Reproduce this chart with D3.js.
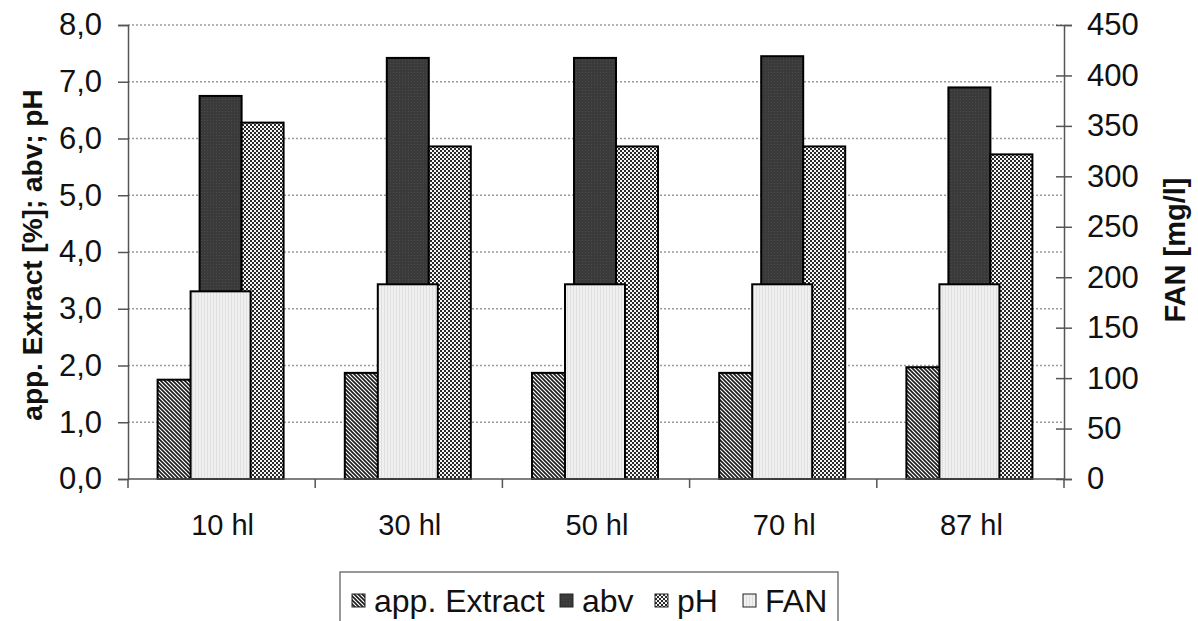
<!DOCTYPE html>
<html>
<head>
<meta charset="utf-8">
<script src="https://cdn.jsdelivr.net/npm/d3@7"></script>
<style>
  body { margin: 0; background: #fff; }
  svg { font-family: "Liberation Sans", Arial, sans-serif; }
</style>
</head>
<body>
<div id="chart"></div>
<script>
// data
var categories = ["10 hl", "30 hl", "50 hl", "70 hl", "87 hl"];
var appExtract = [1.75, 1.87, 1.87, 1.87, 1.97];
var abv = [6.75, 7.42, 7.42, 7.45, 6.9];
var pH = [6.28, 5.86, 5.86, 5.86, 5.72];
var fan = [186, 193, 193, 193, 193];
var leftTicks = [0, 1, 2, 3, 4, 5, 6, 7, 8];
var rightTicks = [0, 50, 100, 150, 200, 250, 300, 350, 400, 450];

var W = 1198, H = 621;
var plotLeft = 128, plotRight = 1064, plotTop = 25, plotBottom = 479;

var svg = d3.select("#chart").append("svg")
    .attr("width", W)
    .attr("height", H);

// fill patterns
var defs = svg.append("defs");

var pHatch = defs.append("pattern")
    .attr("id", "hatch")
    .attr("patternUnits", "userSpaceOnUse")
    .attr("width", 4).attr("height", 4);
pHatch.append("rect").attr("width", 4).attr("height", 4).attr("fill", "#fff");
pHatch.append("path").attr("d", "M-1,-1 L5,5 M-1,3 L1,5 M3,-1 L5,1")
    .attr("stroke", "#1a1a1a").attr("stroke-width", 1.6);

var pDark = defs.append("pattern")
    .attr("id", "dark")
    .attr("patternUnits", "userSpaceOnUse")
    .attr("width", 3).attr("height", 3);
pDark.append("rect").attr("width", 3).attr("height", 3).attr("fill", "#3a3a3a");
pDark.append("rect").attr("width", 1).attr("height", 1).attr("fill", "#4a4a4a");

var pCheck = defs.append("pattern")
    .attr("id", "check")
    .attr("patternUnits", "userSpaceOnUse")
    .attr("width", 4).attr("height", 4);
pCheck.append("rect").attr("width", 4).attr("height", 4).attr("fill", "#2a2a2a");
pCheck.append("rect").attr("x", 0).attr("y", 0).attr("width", 2).attr("height", 2).attr("fill", "#f6f6f6");
pCheck.append("rect").attr("x", 2).attr("y", 2).attr("width", 2).attr("height", 2).attr("fill", "#f6f6f6");

var pLight = defs.append("pattern")
    .attr("id", "light")
    .attr("patternUnits", "userSpaceOnUse")
    .attr("width", 3).attr("height", 3);
pLight.append("rect").attr("width", 3).attr("height", 3).attr("fill", "#f0f0f0");
pLight.append("rect").attr("width", 1).attr("height", 3).attr("fill", "#e0e0e0");

// scales
var x0 = d3.scaleBand().domain(categories).range([plotLeft, plotRight]).padding(0);
var groupW = 126;
var x1 = d3.scaleBand().domain(["ext", "abv", "ph"])
    .range([(x0.bandwidth() - groupW) / 2 - 1, (x0.bandwidth() + groupW) / 2 - 1]);
var fanW = 60;
var yL = d3.scaleLinear().domain([0, 8]).range([plotBottom, plotTop]);
var yR = d3.scaleLinear().domain([0, 450]).range([plotBottom, plotTop]);

// gridlines
svg.append("g").selectAll("line")
    .data(leftTicks.filter(function(d) { return d > 0; }))
    .enter().append("line")
    .attr("x1", plotLeft).attr("x2", plotRight)
    .attr("y1", function(d) { return yL(d); })
    .attr("y2", function(d) { return yL(d); })
    .attr("stroke", "#9a9a9a")
    .attr("stroke-width", 1.5)
    .attr("stroke-dasharray", "2,2");

// bars
var primary = [
    {key: "ext", values: appExtract, fill: "url(#hatch)"},
    {key: "abv", values: abv, fill: "url(#dark)"},
    {key: "ph", values: pH, fill: "url(#check)"}
];

primary.forEach(function(s) {
    svg.append("g").selectAll("rect")
        .data(s.values)
        .enter().append("rect")
        .attr("x", function(d, i) { return x0(categories[i]) + x1(s.key); })
        .attr("y", function(d) { return yL(d); })
        .attr("width", x1.bandwidth())
        .attr("height", function(d) { return yL(0) - yL(d); })
        .attr("fill", s.fill)
        .attr("stroke", "#000")
        .attr("stroke-width", 2);
});

svg.append("g").selectAll("rect")
    .data(fan)
    .enter().append("rect")
    .attr("x", function(d, i) { return x0(categories[i]) + (x0.bandwidth() - fanW) / 2 - 1; })
    .attr("y", function(d) { return yR(d); })
    .attr("width", fanW)
    .attr("height", function(d) { return yR(0) - yR(d); })
    .attr("fill", "url(#light)")
    .attr("stroke", "#000")
    .attr("stroke-width", 2);

// left axis
var fmt = function(d) { return d3.format(".1f")(d).replace(".", ","); };
var gL = svg.append("g")
    .attr("transform", "translate(" + plotLeft + ",0)")
    .call(d3.axisLeft(yL).tickValues(leftTicks).tickFormat(fmt).tickSize(10).tickPadding(16));
gL.select(".domain").attr("stroke", "#555").attr("stroke-width", 1.5);
gL.selectAll(".tick line").attr("stroke", "#555").attr("stroke-width", 1.5);
gL.selectAll("text").attr("font-size", 31).attr("fill", "#111")
    .attr("font-family", "Liberation Sans, Arial, sans-serif");

// right axis
var gR = svg.append("g")
    .attr("transform", "translate(" + plotRight + ",0)")
    .call(d3.axisRight(yR).tickValues(rightTicks).tickSize(8).tickPadding(15));
gR.select(".domain").attr("stroke", "#555").attr("stroke-width", 1.5);
gR.selectAll(".tick line").attr("x1", -8).attr("stroke", "#555").attr("stroke-width", 1.5);
gR.selectAll("text").attr("font-size", 31).attr("fill", "#111")
    .attr("font-family", "Liberation Sans, Arial, sans-serif");
svg.append("line")
    .attr("x1", plotRight).attr("x2", plotRight)
    .attr("y1", plotBottom).attr("y2", plotBottom + 9)
    .attr("stroke", "#555").attr("stroke-width", 1.5);

// x axis
svg.append("line")
    .attr("x1", plotLeft).attr("x2", plotRight)
    .attr("y1", plotBottom).attr("y2", plotBottom)
    .attr("stroke", "#555").attr("stroke-width", 1.5);
var bounds = categories.map(function(c) { return x0(c); });
svg.append("g").selectAll("line")
    .data(bounds)
    .enter().append("line")
    .attr("x1", function(d) { return d; }).attr("x2", function(d) { return d; })
    .attr("y1", plotBottom).attr("y2", plotBottom + 9)
    .attr("stroke", "#555").attr("stroke-width", 1.5);
svg.append("g").selectAll("text")
    .data(categories)
    .enter().append("text")
    .attr("x", function(d) { return x0(d) + x0.bandwidth() / 2 + 1; })
    .attr("y", 535)
    .attr("text-anchor", "middle")
    .attr("font-size", 29)
    .attr("fill", "#111")
    .text(function(d) { return d; });

// axis titles
svg.append("text")
    .attr("transform", "translate(42,255) rotate(-90)")
    .attr("text-anchor", "middle")
    .attr("font-size", 28)
    .attr("font-weight", "bold")
    .attr("fill", "#111")
    .text("app. Extract [%]; abv; pH");

svg.append("text")
    .attr("transform", "translate(1185,250) rotate(-90)")
    .attr("text-anchor", "middle")
    .attr("font-size", 29)
    .attr("font-weight", "bold")
    .attr("fill", "#111")
    .text("FAN [mg/l]");

// legend
var legendItems = [
    {name: "app. Extract", fill: "url(#hatch)", x: 352},
    {name: "abv", fill: "url(#dark)", x: 560},
    {name: "pH", fill: "url(#check)", x: 655},
    {name: "FAN", fill: "url(#light)", x: 743}
];
svg.append("rect")
    .attr("x", 340).attr("y", 572)
    .attr("width", 498).attr("height", 60)
    .attr("fill", "#fff")
    .attr("stroke", "#777")
    .attr("stroke-width", 1.5);
var lg = svg.append("g").selectAll("g")
    .data(legendItems)
    .enter().append("g")
    .attr("transform", function(d) { return "translate(" + d.x + ",0)"; });
lg.append("rect")
    .attr("x", 0).attr("y", 594)
    .attr("width", 13).attr("height", 13)
    .attr("fill", function(d) { return d.fill; })
    .attr("stroke", "#222")
    .attr("stroke-width", 1);
lg.append("text")
    .attr("x", 22).attr("y", 612)
    .attr("font-size", 32)
    .attr("fill", "#111")
    .text(function(d) { return d.name; });
</script>
</body>
</html>
